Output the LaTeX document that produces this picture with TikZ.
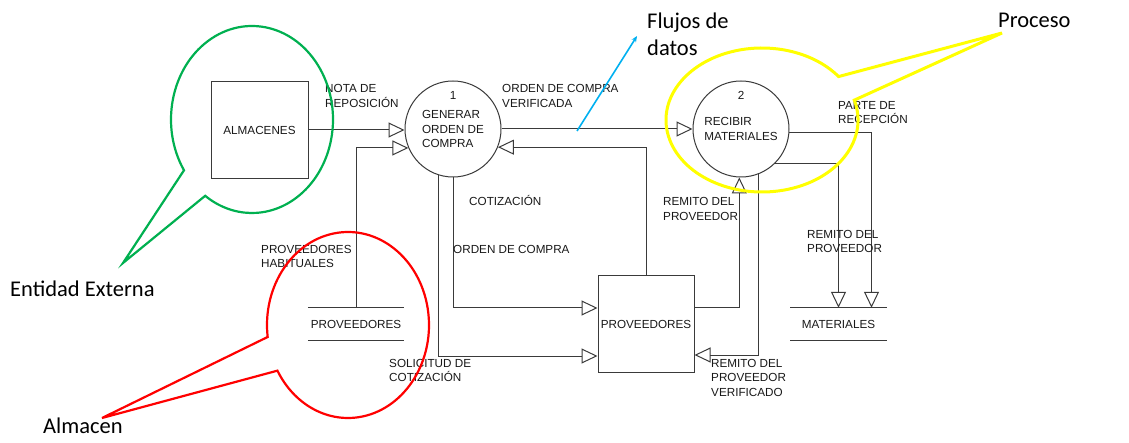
\documentclass[tikz,border=0pt]{standalone}
\usepackage{fontspec}
\setmainfont{Liberation Sans}
\newfontfamily\callfont{Carlito}
\usetikzlibrary{arrows.meta}
\definecolor{linegray}{HTML}{3A3A3A}
\definecolor{callgreen}{HTML}{00B050}
\definecolor{callred}{HTML}{FF0000}
\definecolor{callyellow}{HTML}{FFFF00}
\definecolor{callblue}{HTML}{00B0F0}

\begin{document}
\begin{tikzpicture}[x=1pt, y=-1pt,
            every node/.style={font=\fontsize{11.7}{14.5}\selectfont, text=black!90},
            proc/.style={draw=linegray, line width=1pt, circle, minimum size=96pt, inner sep=0pt, align=left},
            entity/.style={draw=linegray, line width=1pt, minimum size=97pt, inner sep=0pt},
            store/.style={minimum width=96pt, minimum height=32pt, inner sep=0pt},
            flow/.style={draw=linegray, line width=1pt, -{Triangle[open, length=16pt, width=15pt]}},
            lbl/.style={anchor=base west, align=left, inner sep=0pt},
            callout/.style={line width=2.2pt},
            calltext/.style={font=\callfont\fontsize{22.5}{27}\selectfont, text=black, anchor=base west, align=left, inner sep=0pt}]
            \useasboundingbox (0,0) rectangle (1129,443);

            \node[entity] (alm) at (259.5,130) {ALMACENES};
            \node[proc] (gen) at (453,129) {GENERAR\\ORDEN DE\\COMPRA};
            \node[proc] (rec) at (741,129) {RECIBIR\\MATERIALES};
            \node (genNum) at (453,95) {1};
            \node (recNum) at (741,95) {2};
            \node[entity, minimum size=96pt] (prov) at (646,324) {PROVEEDORES};
            \node[store] (provStore) at (356,324) {PROVEEDORES};
            \node[store] (matStore) at (838.5,324) {MATERIALES};
            \draw[linegray, line width=1pt] (provStore.north west) -- (provStore.north east)
                (provStore.south west) -- (provStore.south east);
            \draw[linegray, line width=1pt] (matStore.north west) -- (matStore.north east)
                (matStore.south west) -- (matStore.south east);

            \draw[flow] (alm.east) -- (gen.west |- alm.east);
            \draw[flow] (provStore.north) |- (gen.203);
            \draw[flow] (gen) -- (rec);
            \draw[flow] (prov.north) |- (gen.-22);
            \draw[flow] (gen.south) |- ([yshift=16pt]prov.west);
            \draw[flow] (gen.252) |- ([yshift=-32pt]prov.west);
            \draw[flow] ([yshift=16pt]prov.east) -| (rec.268);
            \draw[flow] (rec.-69) |- ([yshift=-31pt]prov.east);
            \draw[flow] (rec.-4) -| ([xshift=33pt]matStore.north);
            \draw[flow] (rec.-45) -| (matStore.north);

            % labels sit on the baseline of their last line
            \node[lbl] (notaLbl) at (325,107.5) {NOTA DE\\REPOSICIÓN};
            \node[lbl] (ocvLbl) at (502,107.5) {ORDEN DE COMPRA\\VERIFICADA};
            \node[lbl] (parteLbl) at (838,124) {PARTE DE\\RECEPCIÓN};
            \node[lbl] (cotLbl) at (469,206) {COTIZACIÓN};
            \node[lbl] (ocLbl) at (453,254) {ORDEN DE COMPRA};
            \node[lbl] (remLbl) at (663,220.5) {REMITO DEL\\PROVEEDOR};
            \node[lbl] (remMatLbl) at (807,253) {REMITO DEL\\PROVEEDOR};
            \node[lbl] (habLbl) at (261,268) {PROVEEDORES\\HABITUALES};
            \node[lbl] (solLbl) at (389,381.5) {SOLICITUD DE\\COTIZACIÓN};
            \node[lbl] (remVerLbl) at (711,396) {REMITO DEL\\PROVEEDOR\\VERIFICADO};

            % callouts
            \draw[callgreen, callout] (252,119.5) ++(147.1:81 and 93.5)
                arc[start angle=147.1, end angle=485.3, x radius=81, y radius=93.5] -- (123,263) -- cycle;
            \draw[callred, callout] (348,325) ++(172.6:81 and 93)
                arc[start angle=172.6, end angle=510.6, x radius=81, y radius=93] -- (102,418) -- cycle;
            \draw[callyellow, line width=3pt] (762,120) ++(-16:96 and 72)
                arc[start angle=-16, end angle=322.9, x radius=96, y radius=72] -- (1002,33) -- cycle;
            \coordinate (flowPt) at (577,131);
            \coordinate (flowTip) at (637,36);
            \draw[callblue, line width=1.6pt, -{Stealth[length=6pt, width=5pt]}] (flowPt) -- (flowTip);

            \node[calltext] (entLbl) at (10,297) {Entidad Externa};
            \node[calltext] (almLbl) at (43,433) {Almacen};
            \node[calltext] (procLbl) at (998,28) {Proceso};
            \node[calltext] (flujoLbl) at (647,56) {Flujos de\\datos};
        \end{tikzpicture}
\end{document}
